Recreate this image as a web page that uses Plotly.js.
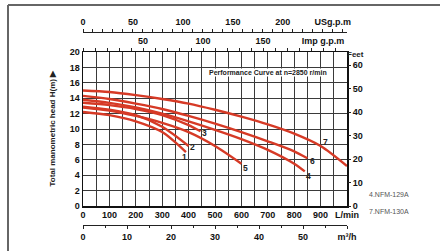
<!DOCTYPE html>
<html><head><meta charset="utf-8">
<script src="https://cdn.plot.ly/plotly-3.0.1.min.js"></script>
<style>html,body{margin:0;padding:0;background:#fff}#c{width:440px;height:251px}</style>
</head><body><div id="c"></div>
<script>
// Flow (L/min) and head (m) for each curve
const q1 = [0, 100, 200, 300, 390];
const h1 = [12.2, 11.8, 11.0, 9.6, 7.0];
const q2 = [0, 100, 200, 300, 400];
const h2 = [12.9, 12.5, 11.8, 10.3, 7.8];
const q3 = [0, 100, 200, 300, 400, 445];
const h3 = [13.4, 13.1, 12.6, 11.8, 10.5, 9.7];
const q4 = [0, 100, 200, 300, 400, 500, 600, 700, 800, 840];
const h4 = [13.8, 13.4, 12.8, 12.0, 11.0, 9.9, 8.7, 7.3, 5.5, 4.5];
const q5 = [0, 100, 200, 300, 400, 500, 600];
const h5 = [12.8, 12.4, 11.7, 10.8, 9.6, 7.8, 5.5];
const q6 = [0, 100, 200, 300, 400, 500, 600, 700, 800, 850];
const h6 = [14.3, 13.9, 13.3, 12.6, 11.7, 10.7, 9.6, 8.4, 7.1, 6.2];
const q7 = [0, 100, 200, 300, 400, 500, 600, 700, 800, 900, 1000];
const h7 = [15.0, 14.8, 14.4, 13.9, 13.3, 12.5, 11.6, 10.6, 9.4, 7.8, 5.2];

const curveNames = ['1', '2', '3', '4', '5', '6', '7'];
const labelQ = [386, 413, 462, 856, 617, 871, 920];
const labelH = [6.4, 7.7, 9.5, 3.9, 4.9, 5.9, 8.3];

const lpmTicks = [0, 100, 200, 300, 400, 500, 600, 700, 800, 900, 1000];
const lpmText = ['0', '100', '200', '300', '400', '500', '600', '700', '800', '900', 'L/min'];
const m3hTicks = [0, 10, 20, 30, 40, 50, 60];
const m3hText = ['0', '10', '20', '30', '40', '50', 'm³/h'];
const usTicks = [0, 50, 100, 150, 200, 250];
const usText = ['0', '50', '100', '150', '200', 'USg.p.m'];
const impTicks = [50, 100, 150, 200];
const impText = ['50', '100', '150', 'Imp g.p.m'];
const headTicks = [0, 2, 4, 6, 8, 10, 12, 14, 16, 18, 20];
const feetTicks = [0, 10, 20, 30, 40, 50, 60];
const modelNotes = ['4.NFM-129A', '7.NFM-130A'];

const W = 440, H = 251;
const px = v => v / W, py = v => (H - v) / H;
const xDom = [px(83), px(347)];
const yDom = [py(206), py(52)];

const red = '#d63a26';
const gridC = '#3a3a3a';
const FAM = 'Liberation Sans, Arial, sans-serif';
const tf = {family: FAM, size: 9, color: '#111', weight: 700};

const Q = [q1, q2, q3, q4, q5, q6, q7];
const Hd = [h1, h2, h3, h4, h5, h6, h7];
const traces = Q.map((q, i) => ({
  x: q, y: Hd[i], type: 'scatter', mode: 'lines', xaxis: 'x', yaxis: 'y',
  line: {color: red, width: 2.4, shape: 'spline', smoothing: 0.8},
  hoverinfo: 'skip', showlegend: false
}));
// dummy traces to activate overlay axes
traces.push({x: [0], y: [0], xaxis: 'x2', yaxis: 'y', mode: 'markers', marker: {opacity: 0}, showlegend: false, hoverinfo: 'skip'});
traces.push({x: [0], y: [0], xaxis: 'x3', yaxis: 'y', mode: 'markers', marker: {opacity: 0}, showlegend: false, hoverinfo: 'skip'});
traces.push({x: [0], y: [0], xaxis: 'x4', yaxis: 'y', mode: 'markers', marker: {opacity: 0}, showlegend: false, hoverinfo: 'skip'});
traces.push({x: [0], y: [0], xaxis: 'x', yaxis: 'y2', mode: 'markers', marker: {opacity: 0}, showlegend: false, hoverinfo: 'skip'});

const gridVals = [];
const gridText = [];
for (let v = 0; v <= 1000; v += 50) { gridVals.push(v); const k = lpmTicks.indexOf(v); gridText.push(k >= 0 ? lpmText[k] : ''); }

const annotations = curveNames.map((n, i) => ({
  x: labelQ[i], y: labelH[i], xref: 'x', yref: 'y', text: n, showarrow: false,
  font: {family: FAM, size: 8.5, color: '#222', weight: 700}
}));
annotations.push({x: 700, y: 17.4, xref: 'x', yref: 'y', text: 'Performance Curve at n=2850 r/min', showarrow: false,
  bgcolor: '#fff', borderpad: 0, font: {family: FAM, size: 7, color: '#222', weight: 700}});
annotations.push({x: px(366), y: py(48), xref: 'paper', yref: 'paper', text: 'Feet', showarrow: false,
  font: {family: FAM, size: 8, color: '#222', weight: 700}});
annotations.push({x: px(45), y: py(128), xref: 'paper', yref: 'paper', text: 'Total manometric head H(m) ▶', textangle: -90, showarrow: false,
  font: {family: FAM, size: 8, color: '#222', weight: 700}});
modelNotes.forEach((t, i) => annotations.push({x: px(367), y: py(200 + i * 17), xref: 'paper', yref: 'paper', xanchor: 'left', text: t, showarrow: false,
  font: {family: FAM, size: 7, color: '#555'}}));

const layout = {
  width: W, height: H, margin: {l: 0, r: 0, t: 0, b: 0}, paper_bgcolor: '#fff', plot_bgcolor: '#fff',
  showlegend: false,
  xaxis: {domain: xDom, range: [0, 1000], tickmode: 'array', tickvals: gridVals, ticktext: gridText,
    showgrid: true, gridcolor: gridC, gridwidth: 1, zeroline: false, showline: true, linecolor: '#111', linewidth: 1.5,
    mirror: true, ticks: '', tickfont: tf, automargin: false, fixedrange: true},
  xaxis2: {overlaying: 'x', anchor: 'free', position: py(225), domain: xDom, range: [0, 60], side: 'bottom',
    tickmode: 'array', tickvals: m3hTicks, ticktext: m3hText, showgrid: false, zeroline: false,
    showline: true, linecolor: '#222', linewidth: 1, ticks: 'outside', ticklen: 3, tickcolor: '#222',
    minor: {dtick: 5, ticks: 'outside', ticklen: 2, tickcolor: '#222'}, tickfont: tf, automargin: false},
  xaxis3: {overlaying: 'x', anchor: 'y', side: 'top', domain: xDom, range: [0, 1000 / 4.546],
    tickmode: 'array', tickvals: impTicks, ticktext: impText, showgrid: false, zeroline: false,
    showline: false, ticks: 'outside', ticklen: 3, tickcolor: '#222',
    minor: {tickmode: 'linear', tick0: 0, dtick: 10, ticks: 'outside', ticklen: 3, tickcolor: '#222'}, tickfont: tf, automargin: false},
  xaxis4: {overlaying: 'x', anchor: 'free', position: py(32), side: 'top', domain: xDom, range: [0, 1000 / 3.785],
    tickmode: 'array', tickvals: usTicks, ticktext: usText, showgrid: false, zeroline: false,
    showline: true, linecolor: '#222', linewidth: 1, ticks: 'outside', ticklen: 3, tickcolor: '#222',
    minor: {tickmode: 'linear', tick0: 0, dtick: 10, ticks: 'outside', ticklen: 3, tickcolor: '#222'}, tickfont: tf, automargin: false},
  yaxis: {domain: yDom, range: [0, 20], tickmode: 'array', tickvals: headTicks, showgrid: true, gridcolor: gridC, gridwidth: 1,
    zeroline: false, showline: true, linecolor: '#111', linewidth: 1.5, mirror: true, ticks: '', tickfont: tf, automargin: false},
  yaxis2: {overlaying: 'y', side: 'right', anchor: 'x', domain: yDom, range: [0, 20 * 3.2808], tickmode: 'array', tickvals: feetTicks,
    showgrid: false, zeroline: false, showline: false, ticks: 'outside', ticklen: 3, tickcolor: '#222', tickfont: tf, automargin: false},
  annotations: annotations,
  shapes: [
    {type: 'line', xref: 'paper', yref: 'paper', x0: px(8), x1: 1, y0: py(5), y1: py(5), line: {color: '#666', width: 2}},
    {type: 'line', xref: 'paper', yref: 'paper', x0: px(8), x1: px(8), y0: py(5), y1: 0, line: {color: '#666', width: 2}}
  ]
};
Plotly.newPlot('c', traces, layout, {staticPlot: true, displayModeBar: false});
</script></body></html>
